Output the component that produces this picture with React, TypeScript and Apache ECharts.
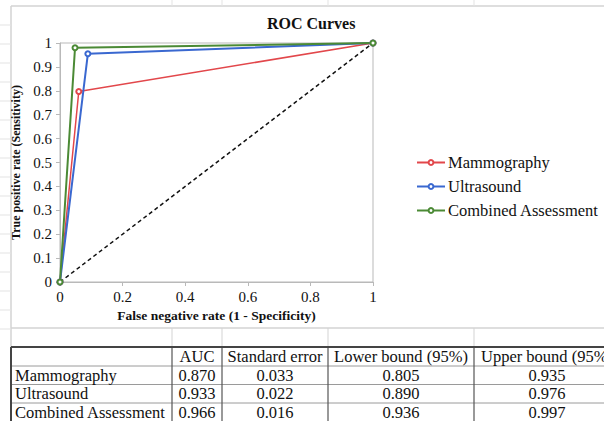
import React, { useEffect, useRef } from "react";
import * as echarts from "echarts";

const seriesNames = ["Mammography", "Ultrasound", "Combined Assessment"];
const falsePositiveRates = [0.06, 0.089, 0.048];
const sensitivities = [0.797, 0.955, 0.98];
const lineColors = ["#e2474b", "#3a68d0", "#4b8a35"];
const lineWidths = [1.5, 2, 2];
const diagonal = [
  [0, 0],
  [1, 1],
];

const tableHeaders = ["", "AUC", "Standard error", "Lower bound (95%)", "Upper bound (95%)"];
const auc = [0.87, 0.933, 0.966];
const stdError = [0.033, 0.022, 0.016];
const lowerBound = [0.805, 0.89, 0.936];
const upperBound = [0.935, 0.976, 0.997];

const FONT = "'Liberation Serif', 'Times New Roman', serif";

export default function App() {
  const ref = useRef<HTMLDivElement>(null);

  useEffect(() => {
    if (!ref.current) return;
    const chart = echarts.init(ref.current, undefined, { renderer: "svg" });

    const colX = [11, 172, 222, 328, 474, 620];
    const rowY = [347, 366, 384.5, 403, 421.5];
    const graphics: any[] = [];
    const light = "#d3d3d3";

    // spreadsheet/chart frame lines
    graphics.push({ type: "line", shape: { x1: 11, y1: 6, x2: 604, y2: 6 }, style: { stroke: light, lineWidth: 1.5 } });
    graphics.push({ type: "line", shape: { x1: 11, y1: 6, x2: 11, y2: 347 }, style: { stroke: light, lineWidth: 1.5 } });
    graphics.push({ type: "line", shape: { x1: 11, y1: 328, x2: 604, y2: 328 }, style: { stroke: light, lineWidth: 1.5 } });
    [172, 222, 328, 474].forEach((x) => {
      graphics.push({ type: "line", shape: { x1: x, y1: 0, x2: x, y2: 6 }, style: { stroke: "#e3e3e3", lineWidth: 1 } });
      graphics.push({ type: "line", shape: { x1: x, y1: 328, x2: x, y2: 347 }, style: { stroke: light, lineWidth: 1 } });
    });
    for (let y = 25; y < 340; y += 19) {
      graphics.push({ type: "line", shape: { x1: 0, y1: y, x2: 11, y2: y }, style: { stroke: "#e3e3e3", lineWidth: 1 } });
    }

    // table
    const rows: string[][] = [tableHeaders];
    seriesNames.forEach((n, i) => {
      rows.push([n, auc[i].toFixed(3), stdError[i].toFixed(3), lowerBound[i].toFixed(3), upperBound[i].toFixed(3)]);
    });
    for (let r = 1; r < rowY.length - 1; r++) {
      graphics.push({ type: "line", shape: { x1: 11, y1: rowY[r], x2: 604, y2: rowY[r] }, style: { stroke: "#9a9a9a", lineWidth: 1 } });
    }
    for (let c = 1; c < colX.length - 1; c++) {
      graphics.push({ type: "line", shape: { x1: colX[c], y1: rowY[0], x2: colX[c], y2: 421 }, style: { stroke: "#555", lineWidth: 1.2 } });
    }
    graphics.push({ type: "line", shape: { x1: 11, y1: rowY[0], x2: 604, y2: rowY[0] }, style: { stroke: "#444", lineWidth: 2 } });
    graphics.push({ type: "line", shape: { x1: 11, y1: rowY[0], x2: 11, y2: 421 }, style: { stroke: "#444", lineWidth: 2 } });
    rows.forEach((row, r) => {
      const cy = (rowY[r] + rowY[r + 1]) / 2;
      row.forEach((txt, c) => {
        if (!txt) return;
        const left = c === 0;
        graphics.push({
          type: "text",
          style: {
            text: txt,
            x: left ? colX[0] + 4 : (colX[c] + colX[c + 1]) / 2,
            y: cy,
            textAlign: left ? "left" : "center",
            textVerticalAlign: "middle",
            fontSize: 16.5,
            fontFamily: FONT,
            fill: "#111",
          },
        });
      });
    });

    const series: any[] = [
      {
        type: "line",
        name: "diagonal",
        data: diagonal,
        symbol: "none",
        lineStyle: { color: "#111", width: 1.5, type: [4, 3] },
        silent: true,
      },
    ];
    seriesNames.forEach((n, i) => {
      series.push({
        type: "line",
        name: n,
        data: [
          [0, 0],
          [falsePositiveRates[i], sensitivities[i]],
          [1, 1],
        ],
        symbol: "emptyCircle",
        symbolSize: 5,
        itemStyle: { color: lineColors[i], borderWidth: 1.2 },
        lineStyle: { color: lineColors[i], width: lineWidths[i] },
      });
    });

    chart.setOption({
      animation: false,
      backgroundColor: "#fff",
      textStyle: { fontFamily: FONT },
      title: {
        text: "ROC Curves",
        left: 262,
        top: 10,
        textStyle: { fontFamily: FONT, fontWeight: "bold", fontSize: 16, color: "#111" },
      },
      legend: {
        data: seriesNames,
        orient: "vertical",
        left: 411,
        top: 149,
        itemWidth: 28,
        itemHeight: 6,
        itemGap: 7,
        textStyle: { fontFamily: FONT, fontSize: 16.5, color: "#111", lineHeight: 16, padding: [0, 0, 0, -2] },
      },
      grid: {
        left: 60,
        right: 231,
        top: 43,
        bottom: 139,
        show: true,
        borderColor: "#b9b9b9",
        borderWidth: 1,
      },
      xAxis: {
        type: "value",
        min: 0,
        max: 1,
        interval: 0.2,
        name: "False negative rate (1 - Specificity)",
        nameLocation: "middle",
        nameGap: 25,
        nameTextStyle: { fontFamily: FONT, fontWeight: "bold", fontSize: 13.5, color: "#111" },
        axisLine: { lineStyle: { color: "#b9b9b9", width: 1 } },
        axisTick: { show: true, length: 4, lineStyle: { color: "#b9b9b9" } },
        axisLabel: { fontFamily: FONT, fontSize: 15, color: "#111", margin: 7 },
        splitLine: { show: false },
      },
      yAxis: {
        type: "value",
        min: 0,
        max: 1,
        interval: 0.1,
        name: "True positive rate (Sensitivity)",
        nameLocation: "middle",
        nameGap: 34,
        nameTextStyle: { fontFamily: FONT, fontWeight: "bold", fontSize: 12, color: "#111" },
        axisLine: { show: true, lineStyle: { color: "#b9b9b9", width: 1 } },
        axisTick: { show: true, length: 4, lineStyle: { color: "#b9b9b9" } },
        axisLabel: { fontFamily: FONT, fontSize: 15, color: "#111", margin: 8 },
        splitLine: { show: false },
      },
      series,
      graphic: graphics,
    });

    return () => chart.dispose();
  }, []);

  return (
    <div
      ref={ref}
      style={{ position: "absolute", left: 0, top: 0, width: 604, height: 421, background: "#fff" }}
    />
  );
}
